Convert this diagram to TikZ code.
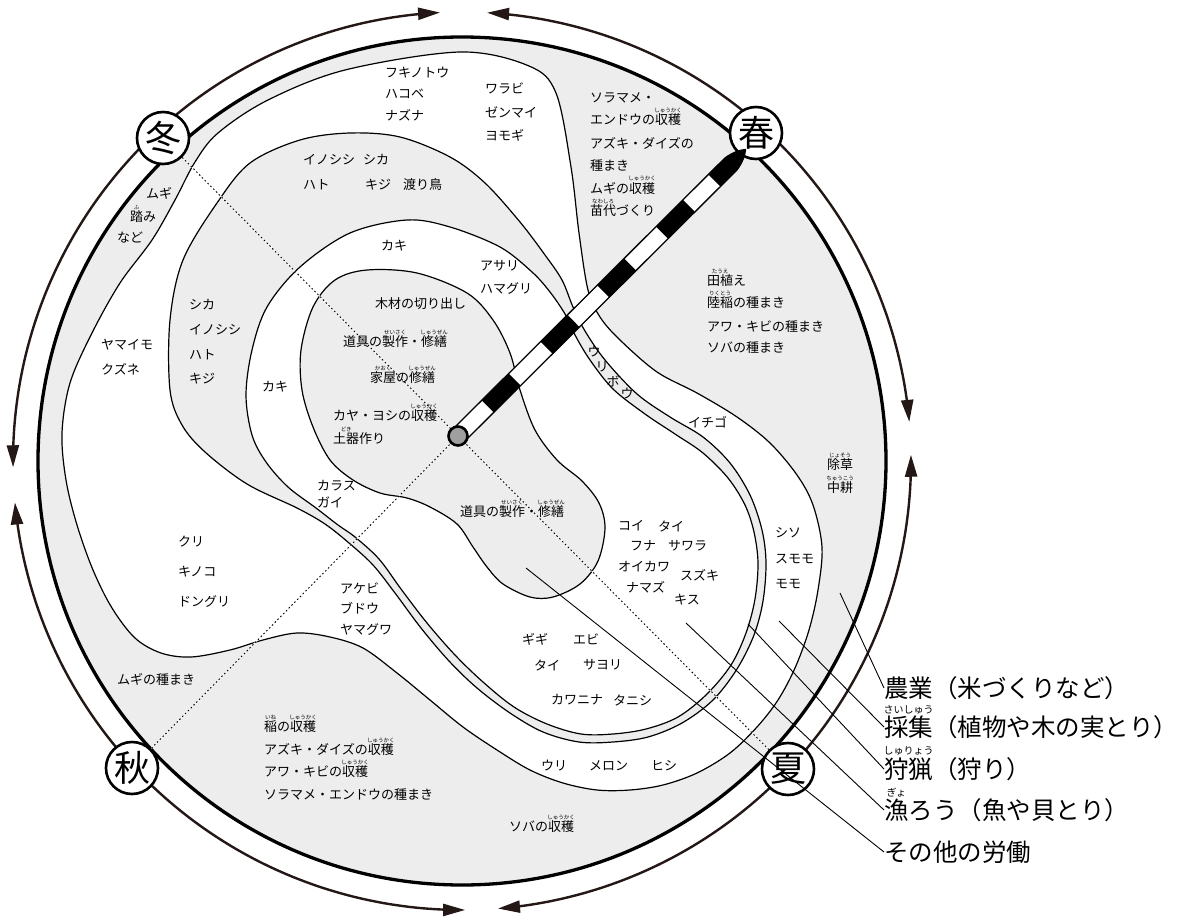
\documentclass[tikz,border=0pt]{standalone}
\usepackage{fontspec}
\setmainfont{Noto Sans CJK JP}
\usetikzlibrary{arrows.meta}
\definecolor{agri}{RGB}{236,237,236}
\definecolor{ink}{RGB}{35,24,21}
\newcommand\rbx[3][5.5]{\leavevmode\setbox0=\hbox{#2}\makebox[0pt][l]{\makebox[\wd0][c]{\raisebox{0.95em}[0pt][0pt]{\fontsize{#1}{#1}\selectfont #3}}}\box0}
\newcommand\ringarc[2]{\draw[ring] plot[domain=#1:#2, samples=60] ({462+449*cos(\x)}, {461-449*sin(\x)});}
\tikzset{
  lbl/.style={anchor=west, inner sep=0pt, font=\fontsize{13}{15}\selectfont},
  ch/.style={inner sep=0pt, font=\fontsize{13}{15}\selectfont},
  leg/.style={anchor=west, inner sep=0pt, font=\fontsize{24.5}{28}\selectfont},
  season/.style={circle, draw, line width=2.6pt, fill=white, minimum size=52pt, inner sep=0pt, font=\fontsize{36}{36}\selectfont},
  region/.style={line width=1.2pt},
  ring/.style={draw=ink, line width=2.4pt, -{Triangle[length=22pt,width=12pt]}},
  dotl/.style={line width=0.9pt, dash pattern=on 1.6pt off 2.4pt},
  leader/.style={line width=0.9pt}
}
\begin{document}
\begin{tikzpicture}[x=1pt,y=-1pt]
\useasboundingbox (0,0) rectangle (1184,918);
\fill[white] (0,0) rectangle (1184,918);
% agriculture disc
\filldraw[fill=agri, line width=3.3pt] (462,461) circle[radius=424pt];
% curve A (gathering)
\filldraw[region, fill=white] plot[smooth cycle, tension=0.55] coordinates {
(460,52) (529,66) (556,93) (571,167) (579,233) (588,290) (600,317) (620,340) (657,372) (697,393) (737,417) (770,443) (797,475) (813,505) (822,547) (818,590) (809,630) (795,668) (778,700) (757,727) (730,753) (697,773) (663,785) (630,790) (597,790) (563,783) (530,770) (497,750) (463,727) (430,700) (397,673) (363,648) (330,637) (297,633) (263,640) (230,650) (191,657) (161,653) (135,638) (112,608) (93,570) (77,525) (66,480) (62,433) (70,383) (92,333) (120,283) (152,240) (175,200) (195,162) (218,133) (268,100) (345,70)};
% curve B (hunting)
\filldraw[region, fill=agri] plot[smooth cycle, tension=0.55] coordinates {
(300,140) (350,133) (400,137) (450,157) (485,183) (520,222) (545,255) (562,280) (573,307) (585,331) (605,360) (637,394) (670,417) (703,437) (730,463) (750,495) (762,530) (766,563) (763,601) (754,635) (737,669) (713,700) (682,723) (648,737) (613,742) (579,742) (543,732) (510,713) (477,688) (449,661) (421,628) (395,593) (373,565) (349,543) (325,524) (297,508) (247,484) (205,452) (182,425) (170,390) (170,320) (183,260) (217,203) (250,163)};
% curve C (fishing)
\filldraw[region, fill=white] plot[smooth cycle, tension=0.55] coordinates {
(350,233) (407,220) (450,227) (500,247) (532,272) (550,292) (565,314) (575,335) (590,360) (613,389) (645,414) (675,434) (703,453) (728,478) (745,505) (754,532) (758,563) (755,599) (746,633) (731,665) (707,694) (678,717) (646,729) (613,734) (581,734) (547,724) (514,707) (483,682) (455,655) (427,623) (401,589) (379,559) (355,537) (338,525) (316,508) (288,487) (266,462) (252,435) (246,395) (252,350) (267,307) (300,267)};
% curve D (other labour)
\filldraw[region, fill=agri] plot[smooth cycle, tension=0.55] coordinates {
(367,270) (417,273) (467,293) (493,320) (510,353) (520,390) (535,430) (557,460) (582,481) (599,503) (605,528) (598,561) (580,584) (553,597) (530,597) (503,584) (487,567) (473,547) (457,524) (430,507) (407,498) (380,493) (353,480) (330,460) (313,427) (302,390) (301,350) (313,307) (335,280)};

% ring arrows
\ringarc{132.8}{92.8}
\ringarc{48.5}{86.8}
\ringarc{132.8}{180.8}
\ringarc{222.9}{185.3}
\ringarc{48.5}{5.0}
\ringarc{-43.5}{0.8}
\ringarc{222.9}{270.4}
\ringarc{316.5}{274.6}

% seasons
\node[season] (dong) at (163,138) {冬};
\node[season] (chun) at (756,133) {春};
\node[season] (qiu) at (132,768) {秋};
\node[season] (xia) at (788,769) {夏};

% dotted diagonals
\coordinate (ctr) at (458,436);
\draw[white, line width=0.9pt] (dong) -- (ctr) -- (xia);
\draw[white, line width=0.9pt] (ctr) -- (qiu);
\draw[dotl] (dong) -- (ctr);
\draw[dotl] (ctr) -- (xia);
\draw[dotl] (ctr) -- (qiu);

% labels: gathering top
\node[lbl] (t1) at (385,73) {フキノトウ};
\node[lbl] (t2) at (385,94) {ハコベ};
\node[lbl] (t3) at (385,115) {ナズナ};
\node[lbl] (t4) at (485,88) {ワラビ};
\node[lbl] (t5) at (485,112) {ゼンマイ};
\node[lbl] (t6) at (485,135) {ヨモギ};
% agriculture top
\node[lbl] (a1) at (590,98) {ソラマメ・};
\node[lbl] (a2) at (590,120) {エンドウの\rbx{収穫}{しゅうかく}};
\node[lbl] (a3) at (590,143) {アズキ・ダイズの};
\node[lbl] (a4) at (590,166) {種まき};
\node[lbl] (a5) at (590,188) {ムギの\rbx{収穫}{しゅうかく}};
\node[lbl] (a6) at (590,211) {\rbx{苗代}{なわしろ}づくり};
% agriculture right
\node[lbl] (a7) at (707,281) {\rbx{田植}{たうえ}え};
\node[lbl] (a8) at (707,303) {\rbx{陸稲}{りくとう}の種まき};
\node[lbl] (a9) at (707,327) {アワ・キビの種まき};
\node[lbl] (a10) at (707,348) {ソバの種まき};
\node[lbl] (a11) at (827,465) {\rbx{除草}{じょそう}};
\node[lbl] (a12) at (827,488) {\rbx{中耕}{ちゅうこう}};
% agriculture left / bottom
\node[lbl] (a13) at (146,193) {ムギ};
\node[lbl] (a14) at (130,217) {\rbx{踏}{ふ}み};
\node[lbl] (a15) at (117,238) {など};
\node[lbl] (a16) at (117,679) {ムギの種まき};
\node[lbl] (a17) at (264,727) {\rbx{稲}{いね}の\rbx{収穫}{しゅうかく}};
\node[lbl] (a18) at (264,750) {アズキ・ダイズの\rbx{収穫}{しゅうかく}};
\node[lbl] (a19) at (264,772) {アワ・キビの\rbx{収穫}{しゅうかく}};
\node[lbl] (a20) at (264,795) {ソラマメ・エンドウの種まき};
\node[lbl] (a21) at (509,827) {ソバの\rbx{収穫}{しゅうかく}};
% hunting
\node[lbl] (h1) at (303,160) {イノシシ};
\node[lbl] (h2) at (363,160) {シカ};
\node[lbl] (h3) at (303,185) {ハト};
\node[lbl] (h4) at (365,185) {キジ};
\node[lbl] (h5) at (403,185) {渡り鳥};
\node[lbl] (h6) at (189,305) {シカ};
\node[lbl] (h7) at (189,330) {イノシシ};
\node[lbl] (h8) at (189,355) {ハト};
\node[lbl] (h9) at (189,379) {キジ};
\node[ch] (u1) at (594,352) {ウ};
\node[ch] (u2) at (602,367) {リ};
\node[ch] (u3) at (613,381) {ボ};
\node[ch] (u4) at (627,394) {ウ};
% gathering
\node[lbl] (g1) at (101,345) {ヤマイモ};
\node[lbl] (g2) at (101,369) {クズネ};
\node[lbl] (g3) at (178,542) {クリ};
\node[lbl] (g4) at (178,572) {キノコ};
\node[lbl] (g5) at (178,601) {ドングリ};
\node[lbl] (g6) at (340,588) {アケビ};
\node[lbl] (g7) at (340,608) {ブドウ};
\node[lbl] (g8) at (340,629) {ヤマグワ};
\node[lbl] (g9) at (688,422) {イチゴ};
\node[lbl] (g10) at (775,533) {シソ};
\node[lbl] (g11) at (775,559) {スモモ};
\node[lbl] (g12) at (775,584) {モモ};
\node[lbl] (g13) at (541,766) {ウリ};
\node[lbl] (g14) at (589,766) {メロン};
\node[lbl] (g15) at (651,766) {ヒシ};
% fishing
\node[lbl] (f1) at (381,246) {カキ};
\node[lbl] (f2) at (480,266) {アサリ};
\node[lbl] (f3) at (480,288) {ハマグリ};
\node[lbl] (f4) at (262,387) {カキ};
\node[lbl] (f5) at (317,486) {カラス};
\node[lbl] (f6) at (317,502) {ガイ};
\node[lbl] (f7) at (618,526) {コイ};
\node[lbl] (f8) at (658,526) {タイ};
\node[lbl] (f9) at (630,546) {フナ};
\node[lbl] (f10) at (668,546) {サワラ};
\node[lbl] (f11) at (618,567) {オイカワ};
\node[lbl] (f12) at (626,587) {ナマズ};
\node[lbl] (f13) at (680,575) {スズキ};
\node[lbl] (f14) at (674,600) {キス};
\node[lbl] (f15) at (522,639) {ギギ};
\node[lbl] (f16) at (573,639) {エビ};
\node[lbl] (f17) at (534,665) {タイ};
\node[lbl] (f18) at (583,665) {サヨリ};
\node[lbl] (f19) at (551,700) {カワニナ};
\node[lbl] (f20) at (613,700) {タニシ};
% other labour
\node[lbl] (o1) at (375,304) {木材の切り出し};
\node[lbl] (o2) at (343,342) {道具の\rbx{製作}{せいさく}・\rbx{修繕}{しゅうぜん}};
\node[lbl] (o3) at (370,378) {\rbx{家屋}{かおく}の\rbx{修繕}{しゅうぜん}};
\node[lbl] (o4) at (333,416) {カヤ・ヨシの\rbx{収穫}{しゅうかく}};
\node[lbl] (o5) at (333,439) {\rbx{土器}{どき}作り};
\node[lbl] (o6) at (460,512) {道具の\rbx{製作}{せいさく}・\rbx{修繕}{しゅうぜん}};

% spoke
\begin{scope}[shift={(458,436)}, rotate=44.9]
  \fill[white] (0,-8.5) -- (385,-8.5) .. controls (396,-7) and (402,-3) .. (406,0) .. controls (402,3) and (396,7) .. (385,8.5) -- (0,8.5) -- cycle;
  \fill (42,-8.5) rectangle (80,8.5);
  \fill (125,-8.5) rectangle (163,8.5);
  \fill (205,-8.5) rectangle (243,8.5);
  \fill (288,-8.5) rectangle (326,8.5);
  \fill (362,-8.5) -- (385,-8.5) .. controls (396,-7) and (402,-3) .. (406,0) .. controls (402,3) and (396,7) .. (385,8.5) -- (362,8.5) -- cycle;
  \draw[line width=1.3pt, line join=round] (0,-8.5) -- (385,-8.5) .. controls (396,-7) and (402,-3) .. (406,0) .. controls (402,3) and (396,7) .. (385,8.5) -- (0,8.5) -- cycle;
\end{scope}
\node[circle, draw, line width=2.6pt, fill=gray!75, minimum size=19pt, inner sep=0pt] (dot) at (ctr) {};

% legend
\node[leg] (L1) at (884,688) {農業（米づくりなど）};
\node[leg] (L2) at (884,727) {\rbx[10]{採集}{さいしゅう}（植物や木の実とり）};
\node[leg] (L3) at (884,769) {\rbx[10]{狩猟}{しゅりょう}（狩り）};
\node[leg] (L4) at (884,810) {\rbx[10]{漁}{ぎょ}ろう（魚や貝とり）};
\node[leg] (L5) at (884,852) {その他の労働};
\coordinate (e1) at (840,593);
\coordinate (e2) at (779,621);
\coordinate (e3) at (748,624);
\coordinate (e4) at (686,623);
\coordinate (e5) at (526,568);
\draw[leader] (e1) -- (L1.west);
\draw[leader] (e2) -- (L2.west);
\draw[leader] (e3) -- (L3.west);
\draw[leader] (e4) -- (L4.west);
\draw[leader] (e5) -- (L5.west);
\end{tikzpicture}
\end{document}
